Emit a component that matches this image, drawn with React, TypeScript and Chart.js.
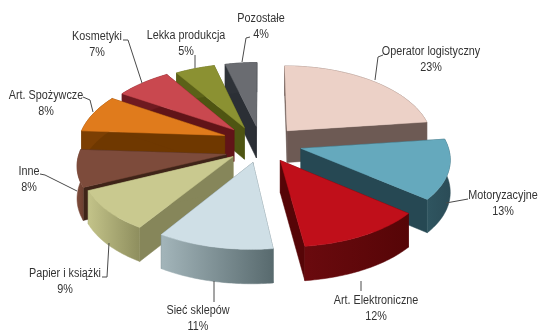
import React, { useEffect, useRef } from "react";
import { Chart, registerables } from "chart.js";

Chart.register(...registerables);

const categories = [
  "Operator logistyczny", "Motoryzacyjne", "Art. Elektroniczne", "Sieć sklepów", "Papier i książki",
  "Inne", "Art. Spożywcze", "Kosmetyki", "Lekka produkcja", "Pozostałe",
];
const shares = [23, 13, 12, 11, 9, 8, 8, 7, 5, 4];
const explode = [30, 32, 36, 34, 36, 38, 36, 34, 34, 32];
const topColors = ["#ecd1c7", "#65a9bd", "#c00f1a", "#cfdfe6", "#c9c98f", "#7d4b3b", "#e07b1c", "#c9484f", "#8b9132", "#6a6c71"];
const wallLight = ["#6d5a54", "#2f5560", "#6a0a0e", "#a3b5ba", "#c3c389", "#7d4b3b", "#7c3f03", "#6f1a20", "#5b6118", "#2e3238"];
const wallDark = ["#6d5a54", "#2b4c57", "#560507", "#586a6e", "#8e8e5e", "#6d3f30", "#7c3f03", "#6f1a20", "#5b6118", "#2e3238"];
const cutColors = ["#6d5a54", "#264853", "#560507", "#586a6e", "#86865a", "#3f2418", "#6f3800", "#611418", "#4f5512", "#2b2f35"];

// Fine placement of each exploded slice, in pixels
const nudgeX = [-1, -1, -6, -3, 1, 6, 0, -3, -5, -4];
const nudgeY = [2, 1, -1, 0, 0, 8, 0, 2, 4, 3];

// Label block centres with baselines, followed by each leader line's path
const labelPlacement = [
  { x: 431, y: 55, leader: [[383, 55], [378, 57], [375, 80]] },
  { x: 503, y: 199, leader: [[468, 199], [446, 203]] },
  { x: 376, y: 304, leader: [[361, 281], [361, 291]] },
  { x: 198, y: 314, leader: [[214, 281], [214, 302]] },
  { x: 65, y: 277, leader: [[102, 277], [107, 277], [109, 243]] },
  { x: 29, y: 175, leader: [[40, 174], [45, 175], [77, 191]] },
  { x: 46, y: 99, leader: [[83, 97], [90, 100], [93, 112]] },
  { x: 97, y: 40, leader: [[123, 40], [128, 40], [142, 83]] },
  { x: 186, y: 39, leader: [[195, 55], [195, 68]] },
  { x: 261, y: 22, leader: [[250, 37], [246, 38], [242, 62]] },
];

const SCALE_X = 1.19;
const SCALE_Y = 0.6;
const PERSPECTIVE_X = 0.12;
const PERSPECTIVE_Y = 0.1;
const DEPTH = 32;
const STEPS = 40;

type Pt = { x: number; y: number };

// Projects a point of the pie's plane, given in radius units, onto the tilted view
function project(el: any, i: number, px: number, py: number, lift: number): Pt {
  return {
    x: el.x + nudgeX[i] + (el.outerRadius * SCALE_X * px) / (1 - PERSPECTIVE_X * py),
    y: el.y + nudgeY[i] + (el.outerRadius * SCALE_Y * py) / (1 - PERSPECTIVE_Y * py) + lift * DEPTH * (1 + 0.06 * py),
  };
}

function slicePoints(el: any, i: number, lift: number) {
  const mid = (el.startAngle + el.endAngle) / 2;
  const shift = el.options.offset / el.outerRadius;
  const ox = shift * Math.cos(mid);
  const oy = shift * Math.sin(mid);
  const arc: Pt[] = [];
  for (let s = 0; s <= STEPS; s++) {
    const a = el.startAngle + ((el.endAngle - el.startAngle) * s) / STEPS;
    arc.push(project(el, i, ox + Math.cos(a), oy + Math.sin(a), lift));
  }
  return { apex: project(el, i, ox, oy, lift), arc };
}

function fillPolygon(ctx: CanvasRenderingContext2D, pts: Pt[], fill: string | CanvasGradient) {
  ctx.beginPath();
  pts.forEach((p, i) => (i ? ctx.lineTo(p.x, p.y) : ctx.moveTo(p.x, p.y)));
  ctx.closePath();
  ctx.fillStyle = fill;
  ctx.fill();
  ctx.strokeStyle = fill;
  ctx.lineWidth = 0.5;
  ctx.stroke();
}

const extrudedPie = {
  id: "extrudedPie",
  beforeDatasetsDraw(chart: any) {
    const { ctx } = chart;
    const arcs = chart.getDatasetMeta(0).data;
    const order = arcs
      .map((el: any, i: number) => ({ el, i, depth: Math.sin((el.startAngle + el.endAngle) / 2) }))
      .sort((a: any, b: any) => a.depth - b.depth);

    ctx.save();
    for (const { el, i } of order) {
      const top = slicePoints(el, i, 0);
      const low = slicePoints(el, i, 1);
      const n = top.arc.length - 1;
      fillPolygon(ctx, [top.apex, top.arc[0], low.arc[0], low.apex], cutColors[i]);
      fillPolygon(ctx, [top.apex, top.arc[n], low.arc[n], low.apex], cutColors[i]);
      const xs = top.arc.map((p: Pt) => p.x);
      const gradient = ctx.createLinearGradient(Math.min(...xs), 0, Math.max(...xs), 0);
      gradient.addColorStop(0, wallLight[i]);
      gradient.addColorStop(1, wallDark[i]);
      fillPolygon(ctx, [...top.arc, ...low.arc.slice().reverse()], gradient);
      fillPolygon(ctx, [top.apex, ...top.arc], el.options.backgroundColor);
    }
    ctx.restore();
    return false;
  },
  afterDraw(chart: any) {
    const { ctx } = chart;
    ctx.save();
    ctx.strokeStyle = "#4a4a4a";
    ctx.lineWidth = 1;
    labelPlacement.forEach(({ leader }) => {
      ctx.beginPath();
      leader.forEach(([x, y], i) => (i ? ctx.lineTo(x, y) : ctx.moveTo(x, y)));
      ctx.stroke();
    });
    ctx.fillStyle = "#333333";
    ctx.font = '12px "Liberation Sans"';
    ctx.textAlign = "center";
    ctx.textBaseline = "alphabetic";
    labelPlacement.forEach(({ x, y }, i) => {
      ctx.save();
      ctx.translate(x, y);
      ctx.scale(0.9, 1);
      ctx.fillText(categories[i], 0, 0);
      ctx.fillText(`${shares[i]}%`, 0, 16);
      ctx.restore();
    });
    ctx.restore();
  },
};

export default function App() {
  const ref = useRef<HTMLCanvasElement>(null);
  useEffect(() => {
    document.body.style.margin = "0";
    const chart = new Chart(ref.current!, {
      type: "pie",
      data: {
        labels: categories,
        datasets: [{ data: shares, backgroundColor: topColors, offset: explode, borderWidth: 0 }],
      },
      options: {
        responsive: false,
        animation: false,
        layout: { padding: { left: 0, right: 8, top: 0, bottom: 47 } },
        plugins: { legend: { display: false }, tooltip: { enabled: false } },
      },
      plugins: [extrudedPie],
    });
    return () => chart.destroy();
  }, []);
  return <canvas ref={ref} width={538} height={331} style={{ display: "block" }} />;
}
